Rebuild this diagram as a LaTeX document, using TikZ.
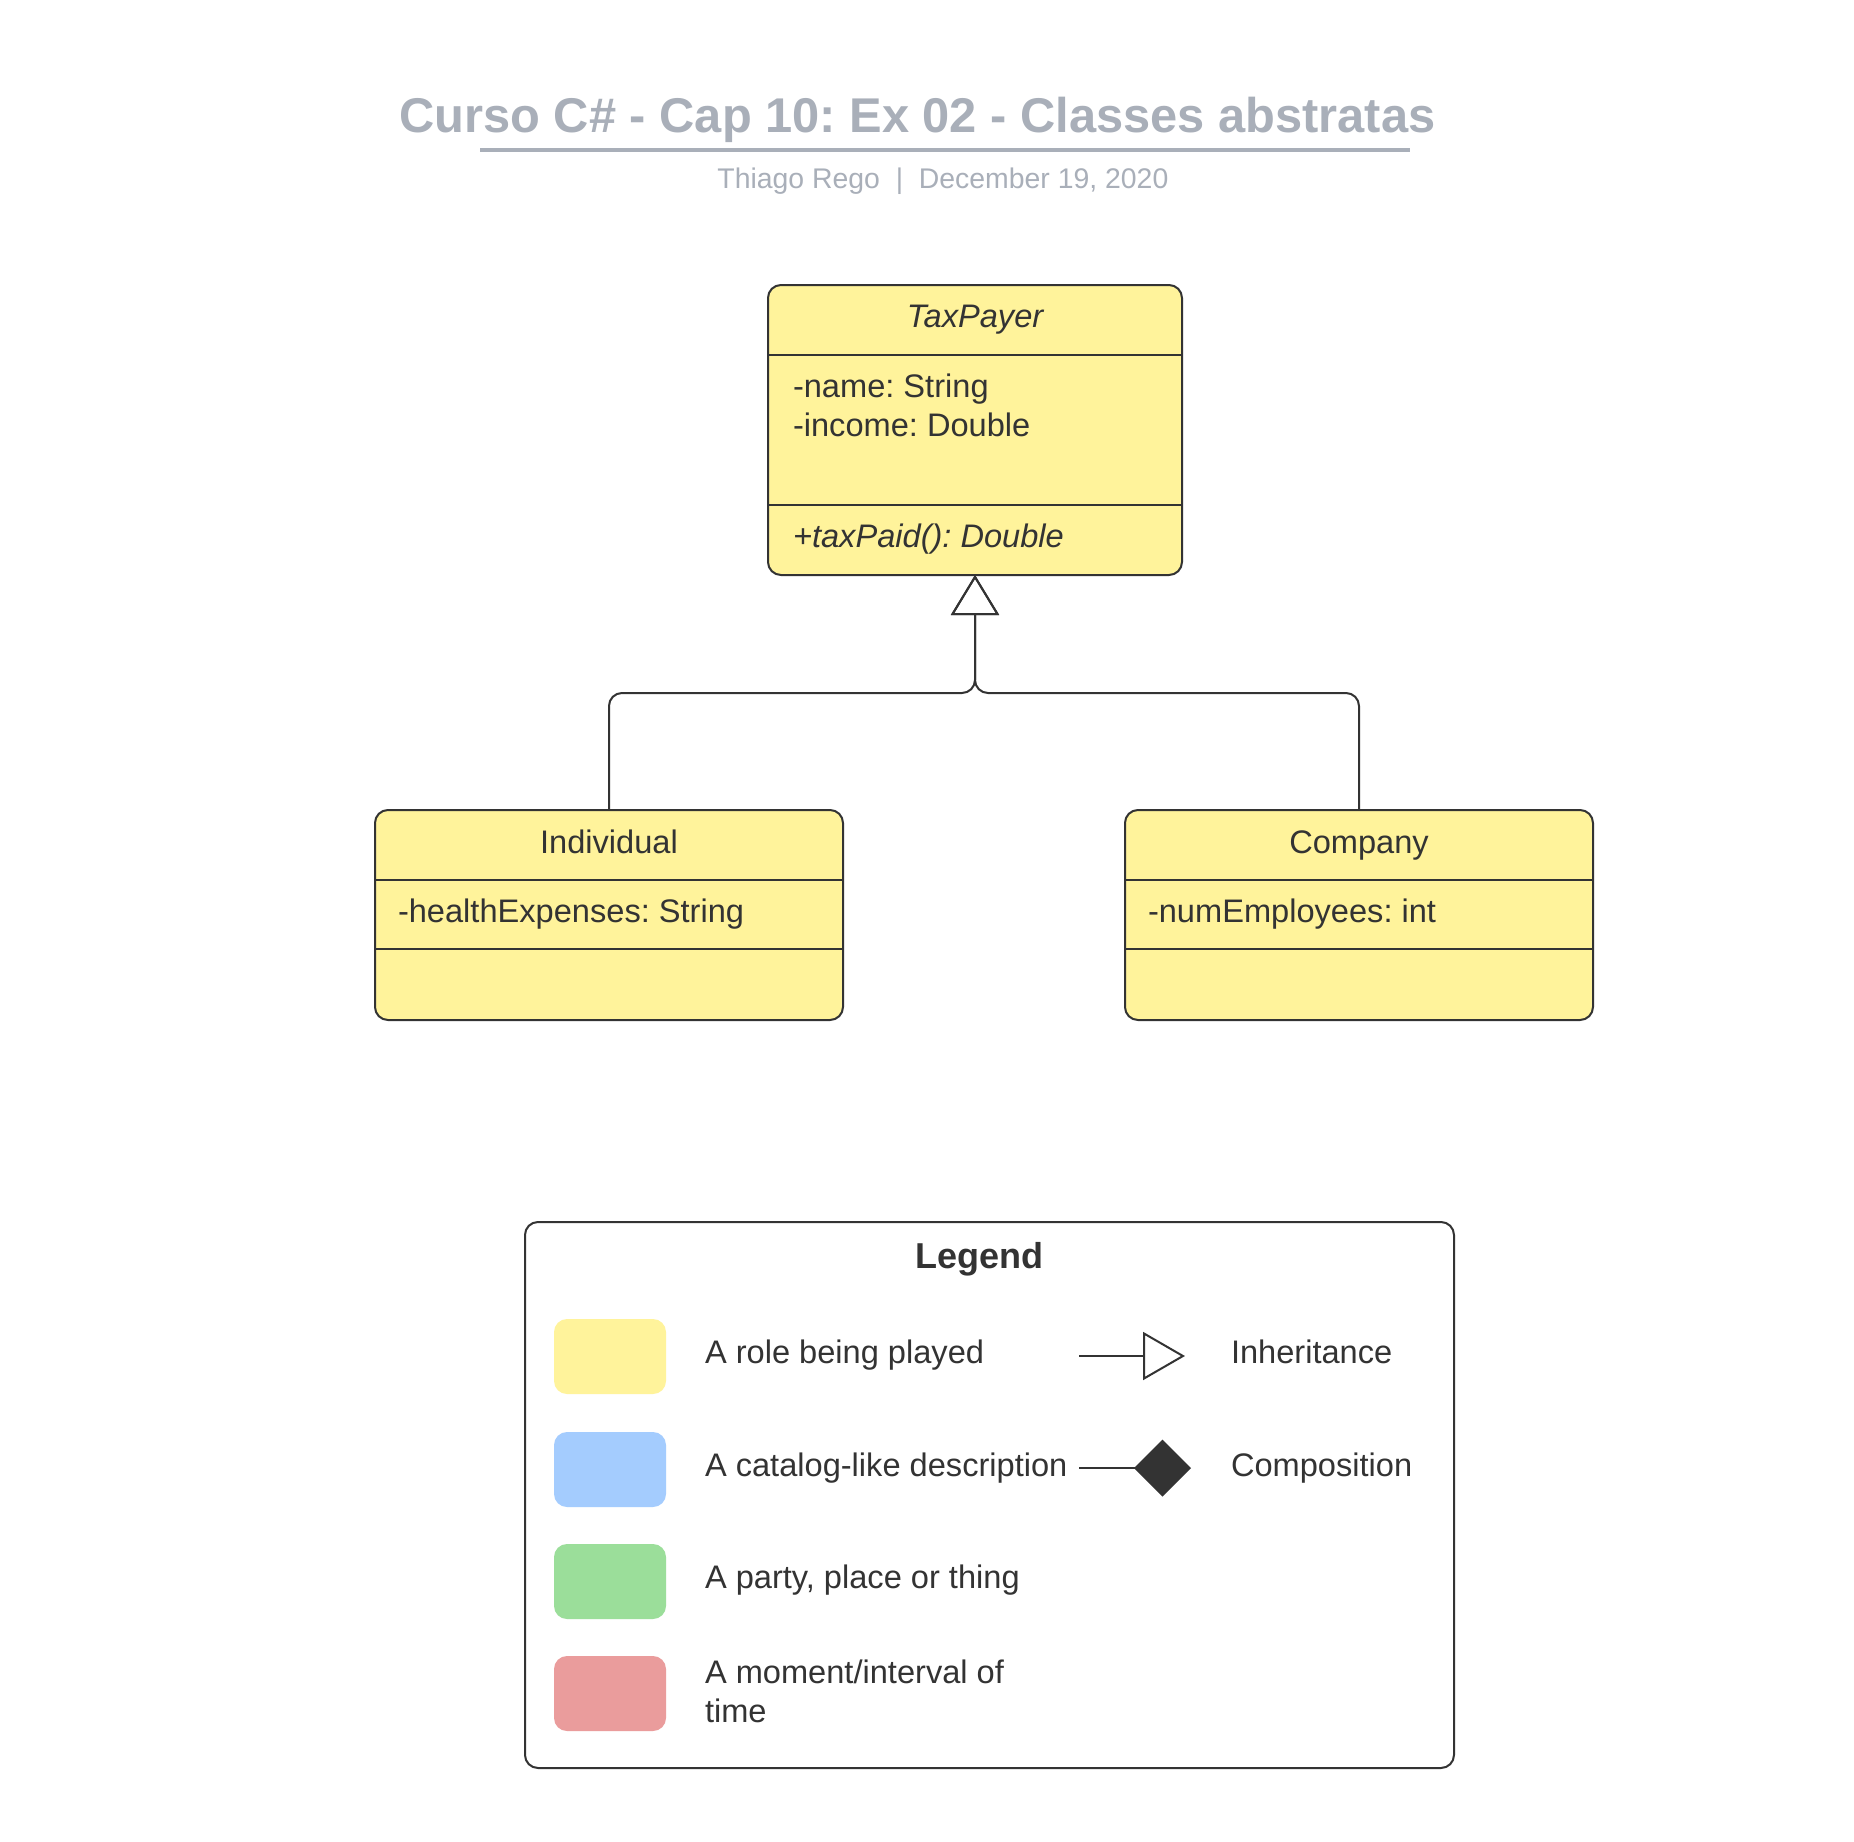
\documentclass[tikz,border=0pt]{standalone}
\usepackage{fontspec}
\setmainfont{Liberation Sans}
\usetikzlibrary{arrows.meta}
\definecolor{ink}{HTML}{333333}
\definecolor{ttl}{HTML}{A9AFB9}
\definecolor{cyel}{HTML}{FFF39B}
\definecolor{cblu}{HTML}{A4CCFE}
\definecolor{cgrn}{HTML}{9BDE9A}
\definecolor{cred}{HTML}{EA9C9C}
\tikzset{
  classbox/.style={draw=ink, fill=cyel, rounded corners=6.5pt, inner sep=0pt, outer sep=0pt, anchor=north west, line width=1pt},
  legbox/.style={draw=ink, fill=white, rounded corners=6.5pt, inner sep=0pt, outer sep=0pt, anchor=north west, line width=1pt},
  sep/.style={draw=ink, line width=1pt},
  txt/.style={inner sep=0pt, outer sep=0pt, anchor=base west, text=ink, font=\fontsize{16.3}{19.5}\selectfont},
  ctxt/.style={txt, anchor=base},
  itxt/.style={txt, font=\fontsize{16.3}{19.5}\selectfont\itshape},
  swatch/.style={draw=none, rounded corners=6.5pt, inner sep=0pt, outer sep=0pt, anchor=north west, minimum width=56pt, minimum height=37.5pt},
  conn/.style={draw=ink, line width=1pt, rounded corners=6.5pt},
  inh/.style={draw=ink, line width=1pt, -{Triangle[open, length=20pt, width=24pt]}},
}
\begin{document}
\frenchspacing
\begin{tikzpicture}[x=0.5pt, y=-0.5pt]
\useasboundingbox[fill=white] (0,0) rectangle (1854,1842);

% title
\node[inner sep=0pt, anchor=base west, text=ttl, font=\fontsize{24.4}{28}\selectfont\bfseries] (title) at (399,132) {Curso C\# - Cap 10: Ex 02 - Classes abstratas};
\draw[draw=ttl, line width=1.65pt] (480,150) -- (1410,150);
\node[inner sep=0pt, anchor=base west, text=ttl, font=\fontsize{14.2}{16}\selectfont] (subtitle) at (717,188) {Thiago Rego\ \ |\ \ December 19, 2020};

% TaxPayer
\node[classbox, minimum width=207pt, minimum height=145pt] (tp) at (768,285) {};
\draw[sep] (768,355) -- (1182,355);
\draw[sep] (768,505) -- (1182,505);
\node[itxt, anchor=base] (tpname) at (975,327) {TaxPayer};
\node[txt] (tpa1) at (793,397) {-name: String};
\node[txt] (tpa2) at (793,436) {-income: Double};
\node[itxt] (tpm1) at (793,547) {+taxPaid(): Double};

% Individual
\node[classbox, minimum width=234pt, minimum height=105pt] (ind) at (375,810) {};
\draw[sep] (375,880) -- (843,880);
\draw[sep] (375,949) -- (843,949);
\node[ctxt] (indname) at (609,853) {Individual};
\node[txt] (inda1) at (398,922) {-healthExpenses: String};

% Company
\node[classbox, minimum width=234pt, minimum height=105pt] (com) at (1125,810) {};
\draw[sep] (1125,880) -- (1593,880);
\draw[sep] (1125,949) -- (1593,949);
\node[ctxt] (comname) at (1359,853) {Company};
\node[txt] (coma1) at (1148,922) {-numEmployees: int};

% inheritance connectors
\coordinate (bend) at (975,693);
\draw[conn, inh] (ind.north) |- (bend) -- (tp.south);
\draw[conn, inh] (com.north) |- (bend) -- (tp.south);

% legend
\node[legbox, minimum width=464.5pt, minimum height=273pt] (leg) at (525,1222) {};
\node[inner sep=0pt, anchor=base, text=ink, font=\fontsize{18}{21}\selectfont\bfseries] (legtitle) at (979,1268) {Legend};

\node[swatch, fill=cyel] (sw1) at (554,1319) {};
\node[swatch, fill=cblu] (sw2) at (554,1432) {};
\node[swatch, fill=cgrn] (sw3) at (554,1544) {};
\node[swatch, fill=cred] (sw4) at (554,1656) {};

\node[txt] (l1) at (705,1363) {A role being played};
\node[txt] (l2) at (705,1476) {A catalog-like description};
\node[txt] (l3) at (705,1588) {A party, place or thing};
\node[txt] (l4a) at (705,1683) {A moment/interval of};
\node[txt] (l4b) at (705,1722) {time};

\coordinate (ia) at (1079,1356);
\coordinate (ib) at (1185,1356);
\draw[draw=ink, line width=1pt, -{Triangle[open, length=21pt, width=24pt]}] (ia) -- (ib);
\node[txt] (linh) at (1231,1363) {Inheritance};

\coordinate (ca) at (1079,1468);
\coordinate (cb) at (1191,1468);
\draw[draw=ink, line width=1pt, -{Diamond[length=28.5pt, width=28.5pt, fill=ink]}] (ca) -- (cb);
\node[txt] (lcomp) at (1231,1476) {Composition};
\end{tikzpicture}
\end{document}
